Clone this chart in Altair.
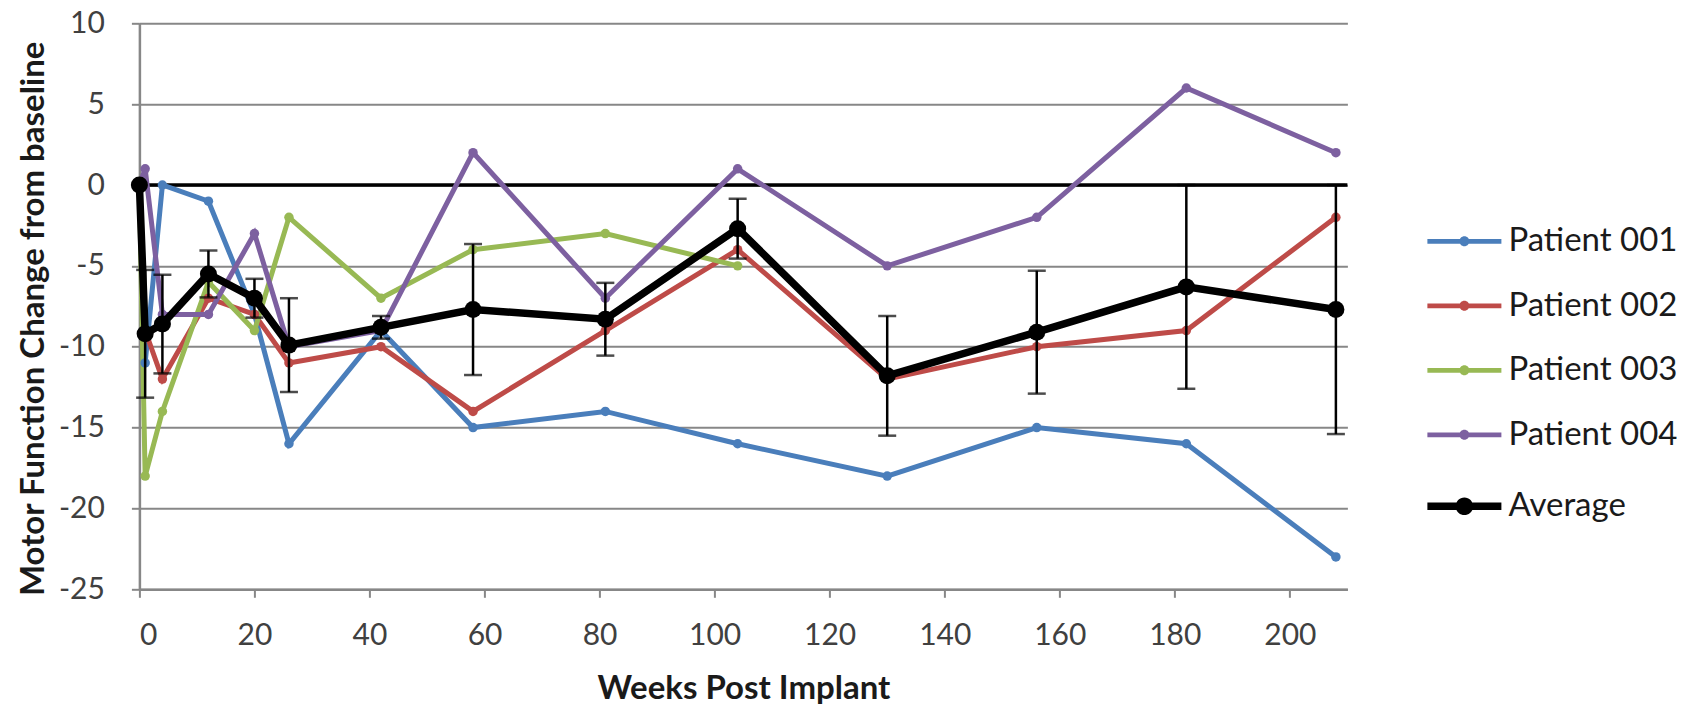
import altair as alt
import pandas as pd

# ---- data ----
weeks = [0, 1, 4, 12, 20, 26, 42, 58, 81, 104, 130, 156, 182, 208]
patient_001 = [0, -11, 0, -1, -8, -16, -9, -15, -14, -16, -18, -15, -16, -23]
patient_002 = [0, -9, -12, -7, -8, -11, -10, -14, -9, -4, -12, -10, -9, -2]
patient_003 = [0, -18, -14, -6, -9, -2, -7, -4, -3, -5, None, None, None, None]
patient_004 = [0, 1, -8, -8, -3, -10, -9, 2, -7, 1, -5, -2, 6, 2]
average = [0, -9.2, -8.6, -5.5, -7.0, -9.9, -8.8, -7.7, -8.3, -2.7, -11.8, -9.1, -6.3, -7.7]
average_err = [0, 3.95, 3.05, 1.45, 1.2, 2.9, 0.7, 4.05, 2.25, 1.85, 3.7, 3.8, 6.3, 7.7]

patient_names = ["Patient 001", "Patient 002", "Patient 003", "Patient 004"]
patient_colors = ["#4A7EBB", "#BE4B48", "#98B954", "#7D60A0"]
average_name = ["Average"]
average_color = ["#000000"]
x_ticks = [0, 20, 40, 60, 80, 100, 120, 140, 160, 180, 200]
y_ticks = [-25, -20, -15, -10, -5, 0, 5, 10]
baseline = [0]

# ---- tables ----
rows = []
for name, vals in zip(patient_names, [patient_001, patient_002, patient_003, patient_004]):
    for w, v in zip(weeks, vals):
        if v is not None:
            rows.append({"series": name, "week": w, "value": v})
patients = pd.DataFrame(rows)

avg_df = pd.DataFrame({"series": average_name[0], "week": weeks, "value": average, "err": average_err})
avg_df["lo"] = avg_df["value"] - avg_df["err"]
avg_df["hi"] = avg_df["value"] + avg_df["err"]
err_df = avg_df[avg_df["err"] > 0]

base_df = pd.DataFrame({"value": baseline})

# ---- encodings ----
x_scale = alt.Scale(domain=[0, 210], nice=False, zero=False)
y_scale = alt.Scale(domain=[-25, 10], nice=False, zero=False)

x_axis = alt.Axis(values=x_ticks, title="Weeks Post Implant", grid=False,
                  labelPadding=23, titleY=99, titleBaseline="middle",
                  labelExpr="toString(datum.value)")
y_axis = alt.Axis(values=y_ticks, title="Motor Function Change from baseline", grid=True,
                  labelPadding=27, titleAngle=270, titleAlign="center",
                  titleBaseline="middle", titleX=-106, titleY=295,
                  labelExpr="toString(datum.value)")

pat_path = ("M-1.85,-0.12 L1.85,-0.12 L1.85,0.12 L-1.85,0.12 Z "
            "M0.25,0 A0.25,0.25 0 1,1 -0.25,0 A0.25,0.25 0 1,1 0.25,0 Z")
avg_path = ("M-1.85,-0.19 L1.85,-0.19 L1.85,0.19 L-1.85,0.19 Z "
            "M0.44,0 A0.44,0.44 0 1,1 -0.44,0 A0.44,0.44 0 1,1 0.44,0 Z")

legend_common = dict(title=None, orient="none", labelFont="Lato", labelFontSize=33,
                     labelColor="#1a1a1a", labelLimit=400, symbolSize=1600, labelOffset=24,
                     symbolOpacity=1, symbolStrokeWidth=0)

pat_legend = alt.Legend(legendX=1305, legendY=198, rowPadding=27.5,
                        symbolType=pat_path, **legend_common)
avg_legend = alt.Legend(legendX=1305, legendY=463, symbolType=avg_path, **legend_common)

all_names = patient_names + average_name
all_colors = patient_colors + average_color

line_stroke = alt.Stroke("series:N", scale=alt.Scale(domain=all_names, range=all_colors), legend=None)
pat_color = alt.Color("series:N", scale=alt.Scale(domain=patient_names, range=patient_colors),
                      sort=patient_names, legend=pat_legend)
avg_fill = alt.Fill("series:N", scale=alt.Scale(domain=average_name, range=average_color),
                    legend=avg_legend)

X = alt.X("week:Q", scale=x_scale, axis=x_axis)
Y = alt.Y("value:Q", scale=y_scale, axis=y_axis)

zero_rule = alt.Chart(base_df).mark_rule(color="black", strokeWidth=3.5).encode(
    y=alt.Y("value:Q", scale=y_scale, axis=y_axis))

pat_lines = alt.Chart(patients).mark_line(strokeWidth=5).encode(x=X, y=Y, stroke=line_stroke)
pat_points = alt.Chart(patients).mark_circle(size=90, opacity=1).encode(x=X, y=Y, color=pat_color)

err_rule = alt.Chart(err_df).mark_rule(color="black", strokeWidth=2.5).encode(
    x=X, y=alt.Y("lo:Q", scale=y_scale, axis=y_axis), y2="hi:Q")
cap_lo = alt.Chart(err_df).mark_tick(color="black", orient="horizontal", size=18, thickness=2.5).encode(
    x=X, y=alt.Y("lo:Q", scale=y_scale, axis=y_axis))
cap_hi = alt.Chart(err_df).mark_tick(color="black", orient="horizontal", size=18, thickness=2.5).encode(
    x=X, y=alt.Y("hi:Q", scale=y_scale, axis=y_axis))

avg_line = alt.Chart(avg_df).mark_line(strokeWidth=7.5).encode(x=X, y=Y, stroke=line_stroke)
avg_points = alt.Chart(avg_df).mark_circle(size=290, opacity=1).encode(x=X, y=Y, fill=avg_fill)

chart = alt.layer(
    zero_rule, pat_lines, pat_points, err_rule, cap_lo, cap_hi, avg_line, avg_points
).properties(
    width=1208, height=566,
    autosize=alt.AutoSizeParams(type="none"),
    padding={"left": 131.4, "top": 15.3, "right": 330, "bottom": 118},
    background="white",
).configure_view(stroke=None).configure_axis(
    labelFont="Lato", labelFontSize=30, labelColor="#404040",
    titleFont="Lato", titleFontSize=33, titleFontWeight="bold", titleColor="#1a1a1a",
    domainColor="#878787", domainWidth=2.5, tickColor="#878787", tickWidth=2, tickSize=8,
    gridColor="#878787", gridWidth=2,
)

chart.save("out.html", embed_options={"renderer": "svg", "actions": False})
